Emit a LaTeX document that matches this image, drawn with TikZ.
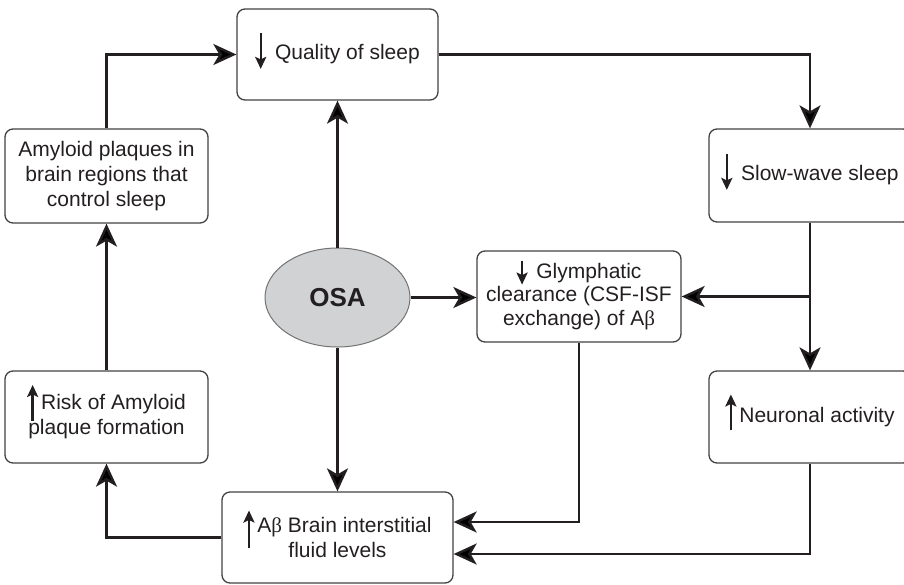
\documentclass[tikz,border=0pt]{standalone}
\usepackage{fontspec}
\setmainfont{Liberation Sans}
\newfontfamily\greekfont{Liberation Serif}
\usetikzlibrary{arrows.meta,shapes.geometric}

\definecolor{inkdark}{HTML}{231F20}
\definecolor{osagray}{HTML}{D1D2D4}

% small up/down arrow set in front of a line of text
\newcommand{\vtarr}[2]{\smash{\tikz[baseline=0pt]\draw[line width=2.4pt, draw=inkdark,
  -{Stealth[length=12pt,width=11pt,inset=2.5pt]}] (0pt,#1) -- (0pt,#2);}\hspace{3pt}}
\newcommand{\Abeta}{A{\greekfont β}}

\begin{document}
\begin{tikzpicture}[
  x=1pt, y=-1pt,
  box/.style={rectangle, draw=inkdark!85, line width=1.3pt, rounded corners=8pt,
    minimum width=202pt, minimum height=92pt, inner sep=0pt, align=center,
    text=inkdark, font=\fontsize{21}{25}\selectfont},
  oval/.style={ellipse, draw=black!55, fill=osagray, line width=1pt,
    minimum width=145pt, minimum height=99pt, inner sep=0pt,
    text=inkdark, font=\fontsize{26}{30}\selectfont\bfseries},
  arr/.style={-{Stealth[length=23pt,width=21pt,inset=6pt]}, line width=2.4pt, draw=inkdark},
]
\useasboundingbox (0,0) rectangle (904,584);

% ============================================================
% NODES
% ============================================================
\node[box, minimum width=201pt, minimum height=91pt] (quality) at (337.5,54.5)
  {\vtarr{27pt}{-9pt} Quality of sleep};
\node[box, minimum height=93pt] (slowwave) at (810,175.5)
  {\vtarr{27pt}{-9pt} Slow-wave sleep};
\node[box, minimum width=203pt, minimum height=94pt] (amyloid) at (106.5,176)
  {Amyloid plaques in\\brain regions that\\control sleep};
\node[oval] (osa) at (337.5,297.5) {OSA};
\node[box, minimum width=204pt, minimum height=91pt,
  font=\fontsize{21}{23.3}\selectfont] (glym) at (579,296.5)
  {\vtarr{18pt}{-6pt} Glymphatic\\clearance (CSF-ISF\\exchange) of \Abeta};
\node[box] (neuronal) at (810,417)
  {\vtarr{-8pt}{28pt}Neuronal activity};
\node[box, minimum width=203pt] (risk) at (106.5,417)
  {\vtarr{-11pt}{25pt}Risk of Amyloid\\plaque formation};
\node[box, minimum width=231pt, minimum height=91pt] (abeta) at (337.5,537.5)
  {\vtarr{-15pt}{22pt}\Abeta{} Brain interstitial\\fluid levels};

% ============================================================
% CONNECTORS
% ============================================================
\draw[arr] (amyloid.north) |- (quality.west);
\draw[arr] (quality.east) -| (slowwave.north);
\draw[arr] (osa.north) -- (quality.south);
\draw[arr] (osa.east) -- (osa.east -| glym.west);
\draw[arr] (osa.south) -- (abeta.north);

% slow-wave sleep branches
\draw[arr] (slowwave.south) -- (neuronal.north);
\coordinate (split) at (slowwave.south |- glym.east);
\draw[arr] (split) -- (glym.east);

% into the interstitial fluid levels
\draw[arr] (glym.south) |- ([yshift=15.5pt]abeta.east);
\draw[arr] (neuronal.south) |- ([yshift=-16.5pt]abeta.east);

% back up the left side
\draw[arr] (abeta.west) -| (risk.south);
\draw[arr] (risk.north) -- (amyloid.south);

\end{tikzpicture}
\end{document}
